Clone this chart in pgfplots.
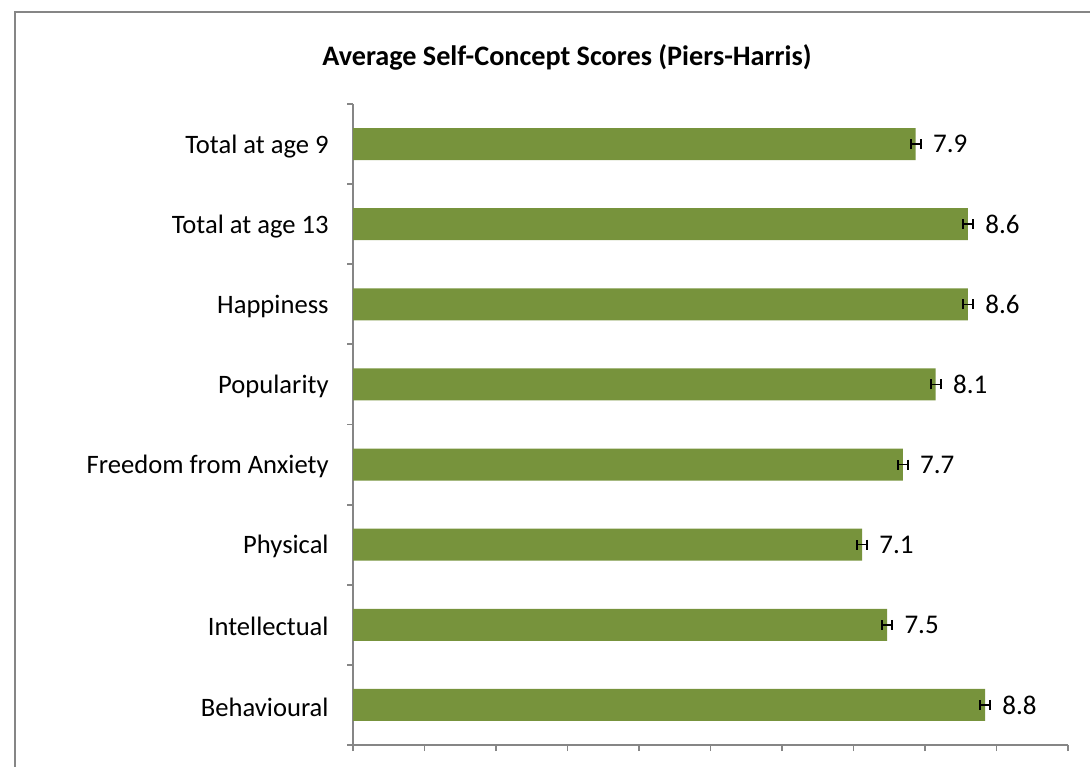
\documentclass[border=0pt]{standalone}
\usepackage{fontspec}
\setmainfont{Carlito}
\usepackage{pgfplots}
\usepackage{pgfplotstable}
\pgfplotsset{compat=1.18}
\definecolor{barcol}{HTML}{77933C}
\definecolor{axgray}{HTML}{868686}
\pgfplotstableread{
x y e m
8.84 0 0.07 8.8
7.47 1 0.07 7.5
7.12 2 0.07 7.1
7.69 3 0.07 7.7
8.15 4 0.07 8.1
8.60 5 0.07 8.6
8.60 6 0.07 8.6
7.87 7 0.07 7.9
}\scores
\begin{document}
\begin{tikzpicture}
\useasboundingbox (0,0) rectangle (545pt,383pt);
\draw[axgray, line width=0.7pt] (7.5pt,-5pt) -- (7.5pt,377pt) -- (560pt,377pt);
\node[font=\fontsize{14.1}{17}\selectfont\bfseries] at (283.5pt,354.5pt) {Average Self-Concept Scores (Piers-Harris)};
\begin{axis}[
  at={(176.5pt,10.5pt)}, anchor=south west,
  scale only axis, width=357.5pt, height=320.5pt,
  xbar, xmin=0, xmax=10, ymin=-0.5, ymax=7.5,
  axis x line*=bottom, axis y line*=left,
  axis line style={axgray, line width=0.9pt},
  xtick={0,...,10}, xticklabels={},
  tick align=outside, major tick length=3pt, minor tick length=3pt,
  major x tick style={axgray, line width=0.9pt},
  ytick={0,...,7},
  yticklabels={Behavioural,Intellectual,Physical,Freedom from Anxiety,Popularity,Happiness,Total at age 13,Total at age 9},
  major y tick style={draw=none},
  minor ytick={-0.5,0.5,...,7.5},
  minor y tick style={axgray, line width=0.9pt},
  y tick label style={font=\fontsize{13.3}{16}\selectfont, inner sep=0pt, anchor=east, xshift=-9pt, yshift=-1pt},
  bar width=16pt,
  nodes near coords,
  nodes near coords style={anchor=west, inner sep=0pt, xshift=8.5pt, font=\fontsize{13.5}{16}\selectfont, text=black},
]
\addplot[fill=barcol, draw=none, point meta=explicit symbolic,
  error bars/.cd, x dir=both, x explicit,
  error bar style={black, line width=0.8pt},
  error mark options={black, line width=0.8pt, mark size=2.5pt, rotate=90}]
  table[x=x, y=y, x error=e, meta=m] {\scores};
\end{axis}
\end{tikzpicture}
\end{document}
